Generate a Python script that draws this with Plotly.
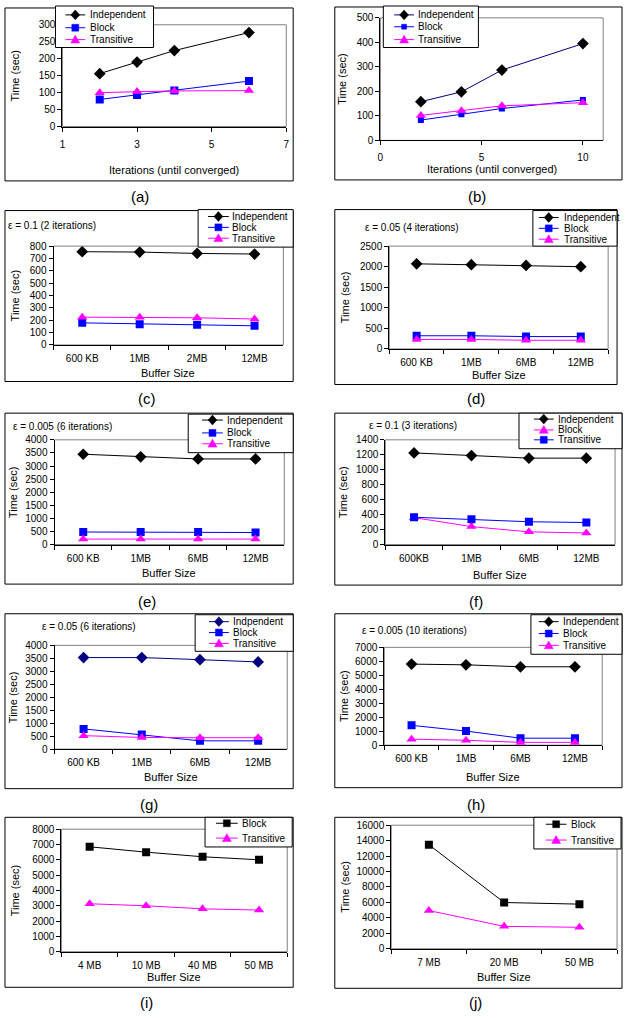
import plotly.graph_objects as go

W, H = 626, 1018
FONT = "Liberation Sans, Arial, sans-serif"

# ---------------- data ----------------
a_x = [2, 3, 4, 6]
a_ind = [156, 190, 224, 277]
a_blk = [80, 93, 106, 134]
a_tra = [100, 103, 105, 106]

b_x = [2, 4, 6, 10]
b_ind = [158, 198, 287, 395]
b_blk = [83, 107, 130, 165]
b_tra = [102, 121, 141, 154]

c_cat = ["600 KB", "1MB", "2MB", "12MB"]
c_ind = [755, 752, 741, 736]
c_blk = [179, 168, 163, 155]
c_tra = [225, 225, 220, 210]

d_cat = ["600 KB", "1MB", "6MB", "12MB"]
d_ind = [2070, 2050, 2030, 2000]
d_blk = [320, 320, 300, 300]
d_tra = [230, 230, 210, 210]

e_cat = ["600 KB", "1MB", "6MB", "12MB"]
e_ind = [3450, 3350, 3270, 3270]
e_blk = [480, 480, 480, 460]
e_tra = [210, 210, 210, 210]

f_cat = ["600KB", "1MB", "6MB", "12MB"]
f_ind = [1225, 1190, 1155, 1155]
f_blk = [360, 240, 170, 155]
f_tra = [365, 340, 305, 295]

g_cat = ["600 KB", "1MB", "6MB", "12MB"]
g_ind = [3530, 3530, 3450, 3360]
g_blk = [780, 560, 320, 320]
g_tra = [520, 450, 440, 440]

h_cat = ["600 KB", "1MB", "6MB", "12MB"]
h_ind = [5800, 5750, 5610, 5610]
h_blk = [1420, 1010, 500, 500]
h_tra = [430, 350, 200, 200]

i_cat = ["4 MB", "10 MB", "40 MB", "50 MB"]
i_blk = [6850, 6500, 6200, 6000]
i_tra = [3130, 3000, 2800, 2720]

j_cat = ["7 MB", "20 MB", "50 MB"]
j_blk = [13480, 5990, 5780]
j_tra = [4950, 2900, 2780]

BLACK, BLUE, MAG, NAVY = "#000000", "#0000FF", "#FF00FF", "#000080"
DIA = ("diamond", 9)
SQ = ("square", 8)
TRI = ("triangle-up", 9)

# series: (name, x, y, linecolor, markercolor, (symbol,size))
# xt: (x-title centre y in px), yt: (y-title centre x in px)
panels = [
    dict(lab="(a)", x=a_x, cat=False, xr=[1, 7], xd=2, x0=1, yr=[0, 300], yd=50,
         plot=(60, 286, 19, 122), box=(2, 293, 2, 177), title_xy=(138, 193),
         xtitle="Iterations (until converged)", xt=166, yt=12,
         series=[("Independent", a_x, a_ind, BLACK, BLACK, DIA),
                 ("Block", a_x, a_blk, BLUE, BLUE, SQ),
                 ("Transitive", a_x, a_tra, MAG, MAG, TRI)],
         leg=dict(box=(53, 152, 0, 42), rows=[9, 22, 34], line=(63, 83), text=86),
         note=None),
    dict(lab="(b)", x=b_x, cat=False, xr=[0, 11], xd=5, x0=0, yr=[0, 500], yd=100,
         plot=(381, 606, 12, 136), box=(335, 625, 1, 176), title_xy=(479, 193),
         xtitle="Iterations (until converged)", xt=165, yt=342,
         series=[("Independent", b_x, b_ind, NAVY, BLACK, DIA),
                 ("Block", b_x, b_blk, BLUE, BLUE, ("square", 6)),
                 ("Transitive", b_x, b_tra, MAG, MAG, TRI)],
         leg=dict(box=(384, 480, 0, 42), rows=[9, 21, 34], line=(395, 415), text=417),
         note=None),
    dict(lab="(c)", x=c_cat, cat=True, yr=[0, 800], yd=100,
         plot=(51, 283, 243, 343), box=(2, 293, 207, 380), title_xy=(145, 397),
         xtitle="Buffer Size", xt=371, yt=12,
         series=[("Independent", c_cat, c_ind, BLACK, BLACK, DIA),
                 ("Block", c_cat, c_blk, BLUE, BLUE, SQ),
                 ("Transitive", c_cat, c_tra, MAG, MAG, TRI)],
         leg=dict(box=(197, 293, 206, 244), rows=[213, 224, 235], line=(207, 228), text=229),
         note=("\u03b5 = 0.1 (2 iterations)", 3, 222)),
    dict(lab="(d)", x=d_cat, cat=True, yr=[0, 2500], yd=500,
         plot=(390, 611, 243, 347), box=(335, 620, 206, 383), title_xy=(478, 397),
         xtitle="Buffer Size", xt=373, yt=345,
         series=[("Independent", d_cat, d_ind, BLACK, BLACK, DIA),
                 ("Block", d_cat, d_blk, BLUE, BLUE, SQ),
                 ("Transitive", d_cat, d_tra, MAG, MAG, TRI)],
         leg=dict(box=(535, 620, 207, 243), rows=[214, 225, 236], line=(541, 561), text=564),
         note=("\u03b5 = 0.05 (4 iterations)", 363, 224)),
    dict(lab="(e)", x=e_cat, cat=True, yr=[0, 4000], yd=500,
         plot=(52, 284, 439, 545), box=(2, 293, 412, 585), title_xy=(145, 603),
         xtitle="Buffer Size", xt=574, yt=10,
         series=[("Independent", e_cat, e_ind, BLACK, BLACK, DIA),
                 ("Block", e_cat, e_blk, BLUE, BLUE, SQ),
                 ("Transitive", e_cat, e_tra, MAG, MAG, TRI)],
         leg=dict(box=(187, 293, 413, 452), rows=[419, 432, 443], line=(201, 222), text=224),
         note=("\u03b5 = 0.005 (6 iterations)", 8, 426)),
    dict(lab="(f)", x=f_cat, cat=True, yr=[0, 1400], yd=200,
         plot=(386, 618, 439, 545), box=(335, 625, 412, 586), title_xy=(478, 603),
         xtitle="Buffer Size", xt=576, yt=343,
         series=[("Independent", f_cat, f_ind, BLACK, BLACK, DIA),
                 ("Block", f_cat, f_blk, MAG, MAG, TRI),
                 ("Transitive", f_cat, f_tra, BLUE, BLUE, SQ)],
         leg=dict(box=(521, 625, 412, 448), rows=[418, 429, 439], line=(536, 556), text=558),
         note=("\u03b5 = 0.1 (3 iterations)", 368, 424)),
    dict(lab="(g)", x=g_cat, cat=True, yr=[0, 4000], yd=500,
         plot=(52, 287, 647, 752), box=(2, 293, 615, 792), title_xy=(147, 808),
         xtitle="Buffer Size", xt=780, yt=10,
         series=[("Indpendent", g_cat, g_ind, NAVY, NAVY, DIA),
                 ("Block", g_cat, g_blk, BLUE, BLUE, SQ),
                 ("Transitive", g_cat, g_tra, MAG, MAG, TRI)],
         leg=dict(box=(194, 293, 616, 653), rows=[623, 634, 645], line=(208, 228), text=230),
         note=("\u03b5 = 0.05 (6 iterations)", 37, 628)),
    dict(lab="(h)", x=h_cat, cat=True, yr=[0, 7000], yd=1000,
         plot=(385, 605, 649, 748), box=(335, 625, 615, 791), title_xy=(478, 808),
         xtitle="Buffer Size", xt=780, yt=345,
         series=[("Independent", h_cat, h_ind, BLACK, BLACK, DIA),
                 ("Block", h_cat, h_blk, BLUE, BLUE, SQ),
                 ("Transitive", h_cat, h_tra, MAG, MAG, TRI)],
         leg=dict(box=(533, 625, 616, 656), rows=[623, 635, 647], line=(541, 561), text=563),
         note=("\u03b5 = 0.005 (10 iterations)", 360, 632)),
    dict(lab="(i)", x=i_cat, cat=True, yr=[0, 8000], yd=1000,
         plot=(59, 287, 833, 957), box=(2, 293, 821, 993), title_xy=(145, 1008),
         xtitle="Buffer Size", xt=983, yt=13,
         series=[("Block", i_cat, i_blk, BLACK, BLACK, SQ),
                 ("Transitive", i_cat, i_tra, MAG, MAG, TRI)],
         leg=dict(box=(204, 292, 821, 851), rows=[827, 842], line=(215, 237), text=239),
         note=None),
    dict(lab="(j)", x=j_cat, cat=True, yr=[0, 16000], yd=2000,
         plot=(392, 620, 829, 954), box=(335, 625, 821, 994), title_xy=(477, 1008),
         xtitle="Buffer Size", xt=983, yt=345,
         series=[("Block", j_cat, j_blk, BLACK, BLACK, SQ),
                 ("Transitive", j_cat, j_tra, MAG, MAG, TRI)],
         leg=dict(box=(536, 624, 821, 853), rows=[828, 844], line=(548, 569), text=571),
         note=None),
]


def px(x):
    return x / W


def py(y):
    return 1 - y / H


def path(points):
    return "M " + " L ".join(f"{px(x):.5f},{py(y):.5f}" for x, y in points) + " Z"


def marker_shape(sym, size, cx, cy, color):
    r = size / 2.0
    if sym == "diamond":
        pts = [(cx, cy - r - 0.5), (cx + r, cy), (cx, cy + r + 0.5), (cx - r, cy)]
    elif sym == "triangle-up":
        pts = [(cx, cy - r), (cx + r, cy + r * 0.75), (cx - r, cy + r * 0.75)]
    else:
        r = r - 0.5
        pts = [(cx - r, cy - r), (cx + r, cy - r), (cx + r, cy + r), (cx - r, cy + r)]
    return dict(type="path", xref="paper", yref="paper", path=path(pts),
                fillcolor=color, line=dict(color=color, width=0.5), layer="above")


fig = go.Figure()
shapes = []
annotations = []
layout_axes = {}
TITLE_FONT = dict(family=FONT, size=11, color="black")

for k, p in enumerate(panels, start=1):
    sfx = "" if k == 1 else str(k)
    xa, ya = f"x{sfx}", f"y{sfx}"
    for name, xs, ys, lc, mc, (sym, size) in p["series"]:
        fig.add_trace(go.Scatter(
            x=xs, y=ys, name=name, xaxis=xa, yaxis=ya, mode="lines+markers",
            line=dict(color=lc, width=1), showlegend=False,
            marker=dict(symbol=sym, size=size, color=mc, line=dict(width=0))))

    l, r, t, b = p["plot"]
    common = dict(showline=True, linecolor="black", linewidth=1, ticks="outside",
                  ticklen=4, tickcolor="black", tickwidth=1, showgrid=False,
                  zeroline=False, fixedrange=True,
                  tickfont=dict(family=FONT, size=10, color="black"))
    xax = dict(common, domain=[px(l), px(r)], anchor=ya, ticklabelstandoff=4)
    if p["cat"]:
        n = len(p["x"])
        xax.update(type="category", tickson="boundaries", range=[-0.5, n - 0.5])
    else:
        xax.update(type="linear", range=p["xr"], dtick=p["xd"], tick0=p["x0"])
    yax = dict(common, domain=[py(b), py(t)], anchor=xa, range=p["yr"], dtick=p["yd"],
               tickformat="d")
    layout_axes[f"xaxis{sfx}"] = xax
    layout_axes[f"yaxis{sfx}"] = yax

    # axis titles
    annotations.append(dict(text=p["xtitle"], x=px((l + r) / 2), y=py(p["xt"]),
                            xref="paper", yref="paper", showarrow=False,
                            xanchor="center", yanchor="middle", font=TITLE_FONT))
    annotations.append(dict(text="Time (sec)", x=px(p["yt"]), y=py((t + b) / 2),
                            xref="paper", yref="paper", showarrow=False, textangle=-90,
                            xanchor="center", yanchor="middle", font=TITLE_FONT))

    # gray plot-area frame (Excel style)
    shapes.append(dict(type="rect", xref=f"{xa} domain", yref=f"{ya} domain",
                       x0=0, x1=1, y0=0, y1=1, line=dict(color="#808080", width=1),
                       layer="below"))
    # outer chart box
    bx0, bx1, by0, by1 = p["box"]
    shapes.append(dict(type="rect", xref="paper", yref="paper",
                       x0=px(bx0), x1=px(bx1), y0=py(by1), y1=py(by0),
                       line=dict(color="black", width=1), layer="above"))
    # panel label
    tx, ty = p["title_xy"]
    annotations.append(dict(text=p["lab"], x=px(tx), y=py(ty), xref="paper", yref="paper",
                            showarrow=False, xanchor="center", yanchor="middle",
                            font=dict(family=FONT, size=15, color="black")))
    # epsilon note
    if p["note"]:
        txt, nx, ny = p["note"]
        annotations.append(dict(text=txt, x=px(nx), y=py(ny), xref="paper", yref="paper",
                                showarrow=False, xanchor="left", yanchor="middle",
                                font=dict(family=FONT, size=10, color="black")))
    # legend box
    lg = p["leg"]
    lx0, lx1, ly0, ly1 = lg["box"]
    shapes.append(dict(type="rect", xref="paper", yref="paper",
                       x0=px(lx0), x1=px(lx1), y0=py(ly1), y1=py(ly0),
                       fillcolor="white", line=dict(color="black", width=1), layer="above"))
    s0, s1 = lg["line"]
    cx = (s0 + s1) / 2
    for (name, xs, ys, lc, mc, (sym, size)), ry in zip(p["series"], lg["rows"]):
        shapes.append(dict(type="line", xref="paper", yref="paper",
                           x0=px(s0), x1=px(s1), y0=py(ry), y1=py(ry),
                           line=dict(color=lc, width=1), layer="above"))
        shapes.append(marker_shape(sym, size, cx, ry, mc))
        annotations.append(dict(text=name, x=px(lg["text"]), y=py(ry), xref="paper",
                                yref="paper", showarrow=False, xanchor="left",
                                yanchor="middle",
                                font=dict(family=FONT, size=10, color="black")))

fig.update_layout(
    width=W, height=H, margin=dict(l=0, r=0, t=0, b=0, pad=0),
    paper_bgcolor="white", plot_bgcolor="white", showlegend=False,
    font=dict(family=FONT, size=10, color="black"),
    shapes=shapes, annotations=annotations, **layout_axes)

fig.write_html("out.html", config=dict(displayModeBar=False))
